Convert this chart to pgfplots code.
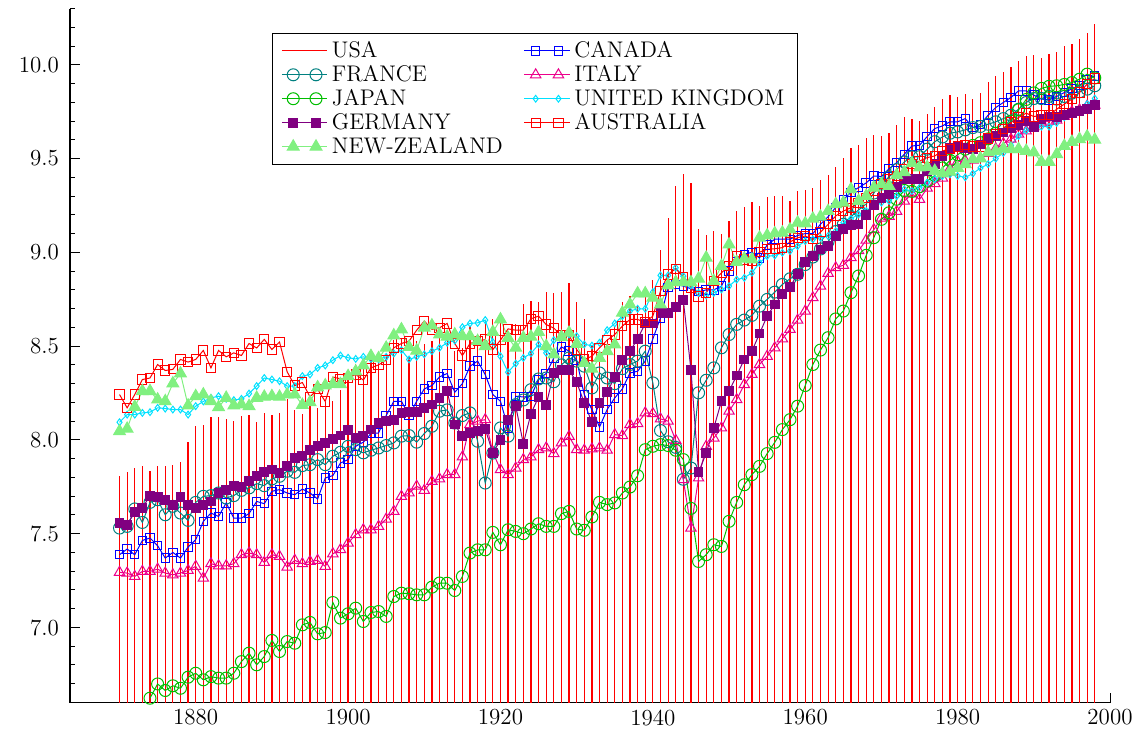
\documentclass[border=0pt]{standalone}
\usepackage{pgfplots}
\pgfplotsset{compat=1.18}
\usepackage{pgfplotstable}
\definecolor{cteal}{RGB}{0,128,128}
\definecolor{cjap}{RGB}{0,190,0}
\definecolor{ccyan}{RGB}{0,225,255}
\definecolor{cpurple}{RGB}{128,0,128}
\definecolor{cnz}{RGB}{128,240,128}
\pgfplotstableread{
year usa can fra ita jpn gbr deu aus nzl
1870 7.81 7.388 7.53 7.294 nan 8.094 7.557 8.242 8.046
1871 7.83 7.418 7.539 7.29 nan 8.135 7.548 8.171 8.059
1872 7.85 7.388 7.632 7.272 nan 8.135 7.614 8.242 8.176
1873 7.86 7.464 7.56 7.299 nan 8.144 7.637 8.322 8.26
1874 7.835 7.477 7.667 7.299 6.623 8.148 7.703 8.33 8.26
1875 7.86 7.436 7.681 7.311 6.699 8.171 7.696 8.402 8.215
1876 7.86 7.37 7.601 7.29 6.664 8.167 7.678 8.37 8.206
1877 7.865 7.40 7.646 7.281 6.689 8.162 7.655 8.376 8.301
1878 7.88 7.37 7.61 7.29 6.676 8.162 7.696 8.429 8.354
1879 7.99 7.429 7.571 7.304 6.735 8.135 7.655 8.415 8.183
1880 8.075 7.468 7.667 7.326 6.756 8.18 7.637 8.429 8.233
1881 8.08 7.566 7.699 7.263 6.721 8.205 7.655 8.477 8.242
1882 8.12 7.61 7.703 7.34 6.738 8.224 7.672 8.384 8.206
1883 8.12 7.592 7.717 7.329 6.73 8.233 7.717 8.477 8.174
1884 8.11 7.664 7.69 7.329 6.73 8.219 7.735 8.443 8.224
1885 8.10 7.583 7.703 7.34 6.756 8.212 7.753 8.464 8.183
1886 8.125 7.583 7.731 7.388 6.818 8.219 7.749 8.45 8.189
1887 8.135 7.607 7.744 7.397 6.863 8.247 7.779 8.514 8.18
1888 8.095 7.672 7.767 7.388 6.801 8.287 7.806 8.49 8.224
1889 8.145 7.66 7.756 7.347 6.845 8.33 7.827 8.536 8.23
1890 8.135 7.726 7.792 7.388 6.931 8.322 7.842 8.482 8.233
1891 8.145 7.735 7.806 7.379 6.872 8.313 7.824 8.522 8.23
1892 8.22 7.717 7.833 7.322 6.925 8.287 7.863 8.363 8.242
1893 8.16 7.708 7.827 7.358 6.916 8.287 7.904 8.29 8.242
1894 8.14 7.738 7.863 7.34 7.014 8.34 7.913 8.306 8.186
1895 8.18 7.717 7.868 7.352 7.027 8.349 7.948 8.23 8.201
1896 8.17 7.685 7.895 7.358 6.966 8.384 7.966 8.27 8.28
1897 8.20 7.797 7.868 7.326 6.973 8.397 7.984 8.205 8.29
1898 8.205 7.81 7.913 7.393 7.133 8.425 8.005 8.335 8.298
1899 8.265 7.877 7.934 7.415 7.05 8.45 8.023 8.326 8.297
1900 8.317 7.895 7.966 7.45 7.073 8.438 8.052 8.33 8.34
1901 8.404 7.966 7.948 7.495 7.103 8.432 8.011 8.349 8.365
1902 8.406 7.988 7.931 7.521 7.032 8.443 8.02 8.319 8.397
1903 8.438 8.034 7.945 7.521 7.08 8.432 8.055 8.384 8.447
1904 8.416 8.037 7.957 7.539 7.085 8.429 8.091 8.40 8.435
1905 8.457 8.13 7.97 7.578 7.059 8.443 8.10 8.425 8.491
1906 8.533 8.206 7.984 7.619 7.165 8.461 8.105 8.491 8.557
1907 8.536 8.206 8.02 7.699 7.183 8.479 8.144 8.514 8.589
1908 8.44 8.13 8.023 7.717 7.18 8.429 8.148 8.527 8.495
1909 8.525 8.206 7.988 7.753 7.174 8.443 8.148 8.585 8.476
1910 8.51 8.272 8.034 7.731 7.174 8.456 8.171 8.634 8.598
1911 8.526 8.29 8.073 7.779 7.215 8.473 8.189 8.589 8.61
1912 8.557 8.336 8.153 7.792 7.237 8.491 8.224 8.598 8.562
1913 8.576 8.354 8.16 7.815 7.236 8.518 8.26 8.621 8.55
1914 8.476 8.254 8.09 7.815 7.197 8.53 8.082 8.514 8.562
1915 8.49 8.30 8.13 7.909 7.272 8.601 8.019 8.45 8.553
1916 8.605 8.393 8.144 8.082 7.397 8.621 8.037 8.514 8.553
1917 8.566 8.42 7.993 8.10 7.414 8.624 8.046 8.527 8.527
1918 8.641 8.348 7.77 8.108 7.414 8.639 8.058 8.535 8.50
1919 8.645 8.242 7.93 7.934 7.507 8.521 7.93 8.482 8.575
1920 8.622 8.206 8.064 7.841 7.441 8.446 8.001 8.532 8.642
1921 8.58 8.064 8.02 7.815 7.521 8.361 8.105 8.592 8.544
1922 8.62 8.233 8.188 7.85 7.512 8.407 8.18 8.585 8.491
1923 8.727 8.229 8.213 7.895 7.50 8.437 7.98 8.585 8.544
1924 8.738 8.233 8.268 7.909 7.525 8.461 8.14 8.646 8.55
1925 8.733 8.322 8.325 7.948 7.553 8.509 8.229 8.66 8.575
1926 8.787 8.354 8.33 7.957 7.539 8.464 8.188 8.615 8.50
1927 8.782 8.437 8.31 7.927 7.539 8.532 8.357 8.596 8.455
1928 8.786 8.496 8.40 7.984 7.607 8.562 8.372 8.557 8.548
1929 8.839 8.473 8.437 8.019 7.619 8.562 8.372 8.557 8.571
1930 8.734 8.425 8.42 7.948 7.525 8.553 8.308 8.482 8.512
1931 8.647 8.242 8.393 7.945 7.518 8.509 8.197 8.429 8.41
1932 8.499 8.162 8.277 7.952 7.589 8.503 8.094 8.446 8.379
1933 8.472 8.069 8.357 7.957 7.667 8.518 8.197 8.491 8.437
1934 8.54 8.162 8.33 7.945 7.655 8.585 8.254 8.532 8.473
1935 8.606 8.224 8.30 8.028 7.664 8.621 8.336 8.562 8.509
1936 8.733 8.272 8.38 8.023 7.717 8.66 8.425 8.607 8.678
1937 8.769 8.357 8.402 8.082 7.749 8.687 8.473 8.642 8.722
1938 8.72 8.366 8.42 8.087 7.809 8.699 8.539 8.642 8.781
1939 8.789 8.42 8.473 8.144 7.948 8.699 8.621 8.628 8.781
1940 8.855 8.539 8.304 8.14 7.966 8.788 8.621 8.66 8.758
1941 9.013 8.651 8.05 8.112 7.975 8.877 8.678 8.793 8.722
1942 9.184 8.811 7.99 8.10 7.97 8.877 8.678 8.882 8.824
1943 9.352 8.83 7.96 7.998 7.945 8.918 8.71 8.913 8.841
1944 9.42 8.82 7.79 7.788 7.895 8.873 8.745 8.868 8.841
1945 9.368 8.806 7.85 7.53 7.635 8.824 8.372 8.811 8.84
1946 9.127 8.79 8.251 7.797 7.352 8.784 7.827 8.765 8.86
1947 9.092 8.80 8.318 7.966 7.388 8.77 7.93 8.784 8.971
1948 9.112 8.80 8.384 8.01 7.441 8.784 8.064 8.847 8.847
1949 9.099 8.82 8.491 8.064 7.432 8.802 8.206 8.891 8.927
1950 9.165 8.90 8.562 8.153 7.566 8.82 8.26 8.927 9.042
1951 9.222 8.95 8.616 8.215 7.667 8.855 8.343 8.98 8.948
1952 9.241 8.99 8.639 8.295 7.761 8.864 8.429 8.962 8.966
1953 9.27 9.00 8.664 8.349 7.815 8.891 8.473 8.953 8.962
1954 9.246 8.97 8.713 8.402 7.859 8.944 8.567 9.001 9.078
1955 9.296 9.04 8.749 8.446 7.927 8.98 8.66 9.016 9.09
1956 9.298 9.07 8.788 8.491 7.987 8.983 8.722 9.019 9.101
1957 9.298 9.07 8.829 8.539 8.055 8.998 8.776 9.025 9.105
1958 9.272 9.07 8.859 8.589 8.108 9.007 8.817 9.055 9.122
1959 9.326 9.09 8.883 8.639 8.18 9.033 8.883 9.078 9.158
1960 9.335 9.10 8.935 8.687 8.29 9.06 8.948 9.087 9.154
1961 9.342 9.10 8.975 8.758 8.402 9.069 8.98 9.069 9.179
1962 9.385 9.15 9.018 8.82 8.479 9.078 9.015 9.108 9.19
1963 9.413 9.19 9.057 8.888 8.545 9.087 9.034 9.149 9.22
1964 9.455 9.24 9.111 8.918 8.645 9.113 9.085 9.194 9.256
1965 9.504 9.28 9.15 8.931 8.687 9.158 9.125 9.22 9.265
1966 9.556 9.32 9.19 8.972 8.785 9.179 9.147 9.238 9.336
1967 9.57 9.345 9.226 9.009 8.874 9.202 9.148 9.265 9.274
1968 9.607 9.37 9.258 9.065 8.984 9.22 9.197 9.291 9.30
1969 9.628 9.407 9.316 9.121 9.078 9.247 9.253 9.327 9.345
1970 9.618 9.404 9.364 9.182 9.176 9.265 9.291 9.363 9.363
1971 9.636 9.446 9.402 9.192 9.211 9.274 9.313 9.389 9.354
1972 9.677 9.478 9.441 9.218 9.283 9.30 9.348 9.407 9.411
1973 9.722 9.523 9.482 9.273 9.33 9.336 9.39 9.445 9.427
1974 9.711 9.567 9.509 9.312 9.325 9.327 9.39 9.47 9.475
1975 9.698 9.571 9.51 9.282 9.35 9.345 9.393 9.487 9.452
1976 9.739 9.617 9.55 9.342 9.38 9.372 9.433 9.505 9.455
1977 9.774 9.66 9.59 9.367 9.41 9.39 9.47 9.514 9.434
1978 9.819 9.674 9.615 9.396 9.45 9.407 9.514 9.54 9.42
1979 9.841 9.696 9.635 9.447 9.49 9.416 9.555 9.553 9.43
1980 9.83 9.696 9.642 9.484 9.52 9.407 9.564 9.564 9.45
1981 9.845 9.713 9.653 9.488 9.55 9.40 9.558 9.571 9.47
1982 9.816 9.665 9.665 9.492 9.57 9.42 9.55 9.564 9.496
1983 9.848 9.683 9.671 9.501 9.585 9.45 9.575 9.564 9.50
1984 9.91 9.731 9.683 9.527 9.605 9.47 9.603 9.607 9.532
1985 9.939 9.772 9.696 9.553 9.635 9.50 9.621 9.63 9.541
1986 9.963 9.799 9.713 9.58 9.66 9.53 9.639 9.657 9.553
1987 9.989 9.826 9.731 9.603 9.70 9.57 9.66 9.692 9.55
1988 10.021 9.861 9.763 9.63 9.76 9.62 9.678 9.719 9.55
1989 10.046 9.861 9.799 9.647 9.815 9.65 9.70 9.742 9.541
1990 10.052 9.838 9.82 9.67 9.85 9.68 9.67 9.724 9.532
1991 10.037 9.817 9.82 9.69 9.874 9.67 9.71 9.731 9.482
1992 10.056 9.813 9.831 9.70 9.885 9.67 9.724 9.731 9.482
1993 10.069 9.831 9.817 9.705 9.888 9.69 9.72 9.763 9.523
1994 10.098 9.852 9.831 9.725 9.895 9.72 9.731 9.79 9.567
1995 10.113 9.872 9.849 9.75 9.905 9.74 9.742 9.817 9.589
1996 10.135 9.89 9.856 9.76 9.923 9.76 9.754 9.852 9.603
1997 10.167 9.923 9.87 9.78 9.95 9.79 9.763 9.897 9.617
1998 10.216 9.941 9.888 9.785 9.93 9.82 9.785 9.927 9.60
}\data
\begin{document}
\begin{tikzpicture}
\begin{axis}[
  at={(0,0)}, anchor=south west,
  width=520pt, height=347pt, scale only axis,
  xmin=1863.5, xmax=2000, ymin=6.6, ymax=10.3,
  axis x line*=bottom, axis y line*=left,
  axis line style={line width=0.6pt},
  tick align=inside,
  major tick length=5pt, minor tick length=2.5pt,
  every tick/.style={black, line width=0.5pt},
  xtick={1880,1900,...,2000},
  minor xtick={1870,1890,...,1990},
  ytick={7.0,7.5,...,10.0},
  minor ytick={6.6,6.7,...,10.3},
  tick label style={font=\fontsize{11.5}{13}\selectfont},
  /pgf/number format/assume math mode=true,
  xticklabel style={/pgf/number format/1000 sep=},
  yticklabel style={xshift=-2pt, /pgf/number format/.cd, fixed, fixed zerofill, precision=1},
  legend columns=2,
  legend cell align=left,
  legend style={at={(0.194,0.965)}, anchor=north west, draw=black, line width=0.5pt,
    fill=white, font=\fontsize{11.3}{11.3}\selectfont, inner xsep=4.5pt, inner ysep=2pt,
    row sep=-1.6pt,
    /tikz/every even column/.append style={column sep=8.5pt}},
  legend image code/.code={\draw[mark repeat=2,mark phase=2,#1] plot coordinates {(0cm,0cm) (0.2cm,0cm) (0.4cm,0cm) (0.6cm,0cm) (0.8cm,0cm)};},
]
\addplot[ycomb, red, line width=0.6pt, no markers,
  legend image code/.code={\draw[red, line width=0.6pt] (0cm,0cm) -- (0.8cm,0cm);}]
  table[x=year,y=usa]{\data};
\addlegendentry{USA}
\addplot[blue, line width=0.5pt, mark=square, mark size=2.1pt] table[x=year,y=can]{\data};
\addlegendentry{CANADA}
\addplot[cteal, line width=0.5pt, mark=o, mark size=3pt] table[x=year,y=fra]{\data};
\addlegendentry{FRANCE}
\addplot[magenta, line width=0.5pt, mark=triangle, mark size=3pt] table[x=year,y=ita]{\data};
\addlegendentry{ITALY}
\addplot[cjap, line width=0.5pt, mark=o, mark size=3pt] table[x=year,y=jpn]{\data};
\addlegendentry{JAPAN}
\addplot[ccyan, line width=0.5pt, mark=diamond, mark size=1.7pt] table[x=year,y=gbr]{\data};
\addlegendentry{UNITED KINGDOM}
\addplot[cpurple, line width=0.5pt, mark=square*, mark size=2.2pt, mark options={fill=cpurple}] table[x=year,y=deu]{\data};
\addlegendentry{GERMANY}
\addplot[red, line width=0.5pt, mark=square, mark size=2.3pt] table[x=year,y=aus]{\data};
\addlegendentry{AUSTRALIA}
\addplot[cnz, line width=0.5pt, mark=triangle*, mark size=3.4pt, mark options={fill=cnz}] table[x=year,y=nzl]{\data};
\addlegendentry{NEW-ZEALAND}
\end{axis}
\pgfresetboundingbox
\path[use as bounding box] (-35pt,-16.5pt) rectangle (537.5pt,351.25pt);
\end{tikzpicture}
\end{document}
